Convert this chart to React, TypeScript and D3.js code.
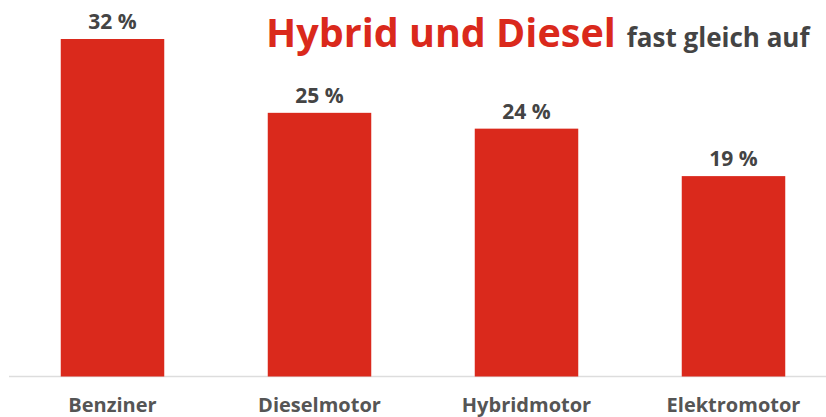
import React, { useEffect, useRef } from 'react';
import * as d3 from 'd3';

const categories = ['Benziner', 'Dieselmotor', 'Hybridmotor', 'Elektromotor'];
const shares = [32, 25, 23.5, 19];
const shareLabels = ['32 %', '25 %', '24 %', '19 %'];

const RED = '#da291c';
const FONT = '"Open Sans", sans-serif';

const App = () => {
    const ref = useRef<SVGSVGElement | null>(null);

    useEffect(() => {
        if (!ref.current) return;
        const svg = d3.select(ref.current);
        svg.selectAll('*').remove();

        const width = 826;
        const baseline = 376.5;

        const x = d3.scaleBand<string>()
            .domain(categories)
            .range([9, 837])
            .paddingInner(0.5)
            .paddingOuter(0.25);

        const y = d3.scaleLinear()
            .domain([0, 32])
            .range([baseline, 39]);

        const data = categories.map((c, i) => ({ c, v: shares[i], label: shareLabels[i] }));

        // baseline
        svg.append('line')
            .attr('x1', 9).attr('x2', width)
            .attr('y1', baseline).attr('y2', baseline)
            .attr('stroke', '#dddddd')
            .attr('stroke-width', 1.5);

        svg.selectAll('rect.bar')
            .data(data)
            .enter()
            .append('rect')
            .attr('class', 'bar')
            .attr('x', d => x(d.c)!)
            .attr('y', d => y(d.v))
            .attr('width', x.bandwidth())
            .attr('height', d => baseline - y(d.v))
            .attr('fill', RED);

        svg.selectAll('text.val')
            .data(data)
            .enter()
            .append('text')
            .attr('class', 'val')
            .attr('x', d => x(d.c)! + x.bandwidth() / 2)
            .attr('y', d => y(d.v) - 10)
            .attr('text-anchor', 'middle')
            .attr('font-family', FONT)
            .attr('font-weight', 700)
            .attr('font-size', 21)
            .attr('fill', '#444')
            .text(d => d.label);

        svg.selectAll('text.cat')
            .data(data)
            .enter()
            .append('text')
            .attr('class', 'cat')
            .attr('x', d => x(d.c)! + x.bandwidth() / 2)
            .attr('y', 411.5)
            .attr('text-anchor', 'middle')
            .attr('font-family', FONT)
            .attr('font-weight', 700)
            .attr('font-size', 20)
            .attr('fill', '#555')
            .text(d => d.c);

        const title = svg.append('text')
            .attr('x', 266)
            .attr('y', 47)
            .attr('font-family', FONT)
            .attr('font-weight', 700);
        title.append('tspan')
            .attr('font-size', 39.5)
            .attr('fill', RED)
            .text('Hybrid und Diesel');
        title.append('tspan')
            .attr('dx', 11)
            .attr('font-size', 26)
            .attr('fill', '#444')
            .text('fast gleich auf');
    }, []);

    return (
        <svg
            ref={ref}
            width={826}
            height={417}
            style={{ position: 'absolute', left: 0, top: 0, background: '#fff' }}
        />
    );
};

export default App;
